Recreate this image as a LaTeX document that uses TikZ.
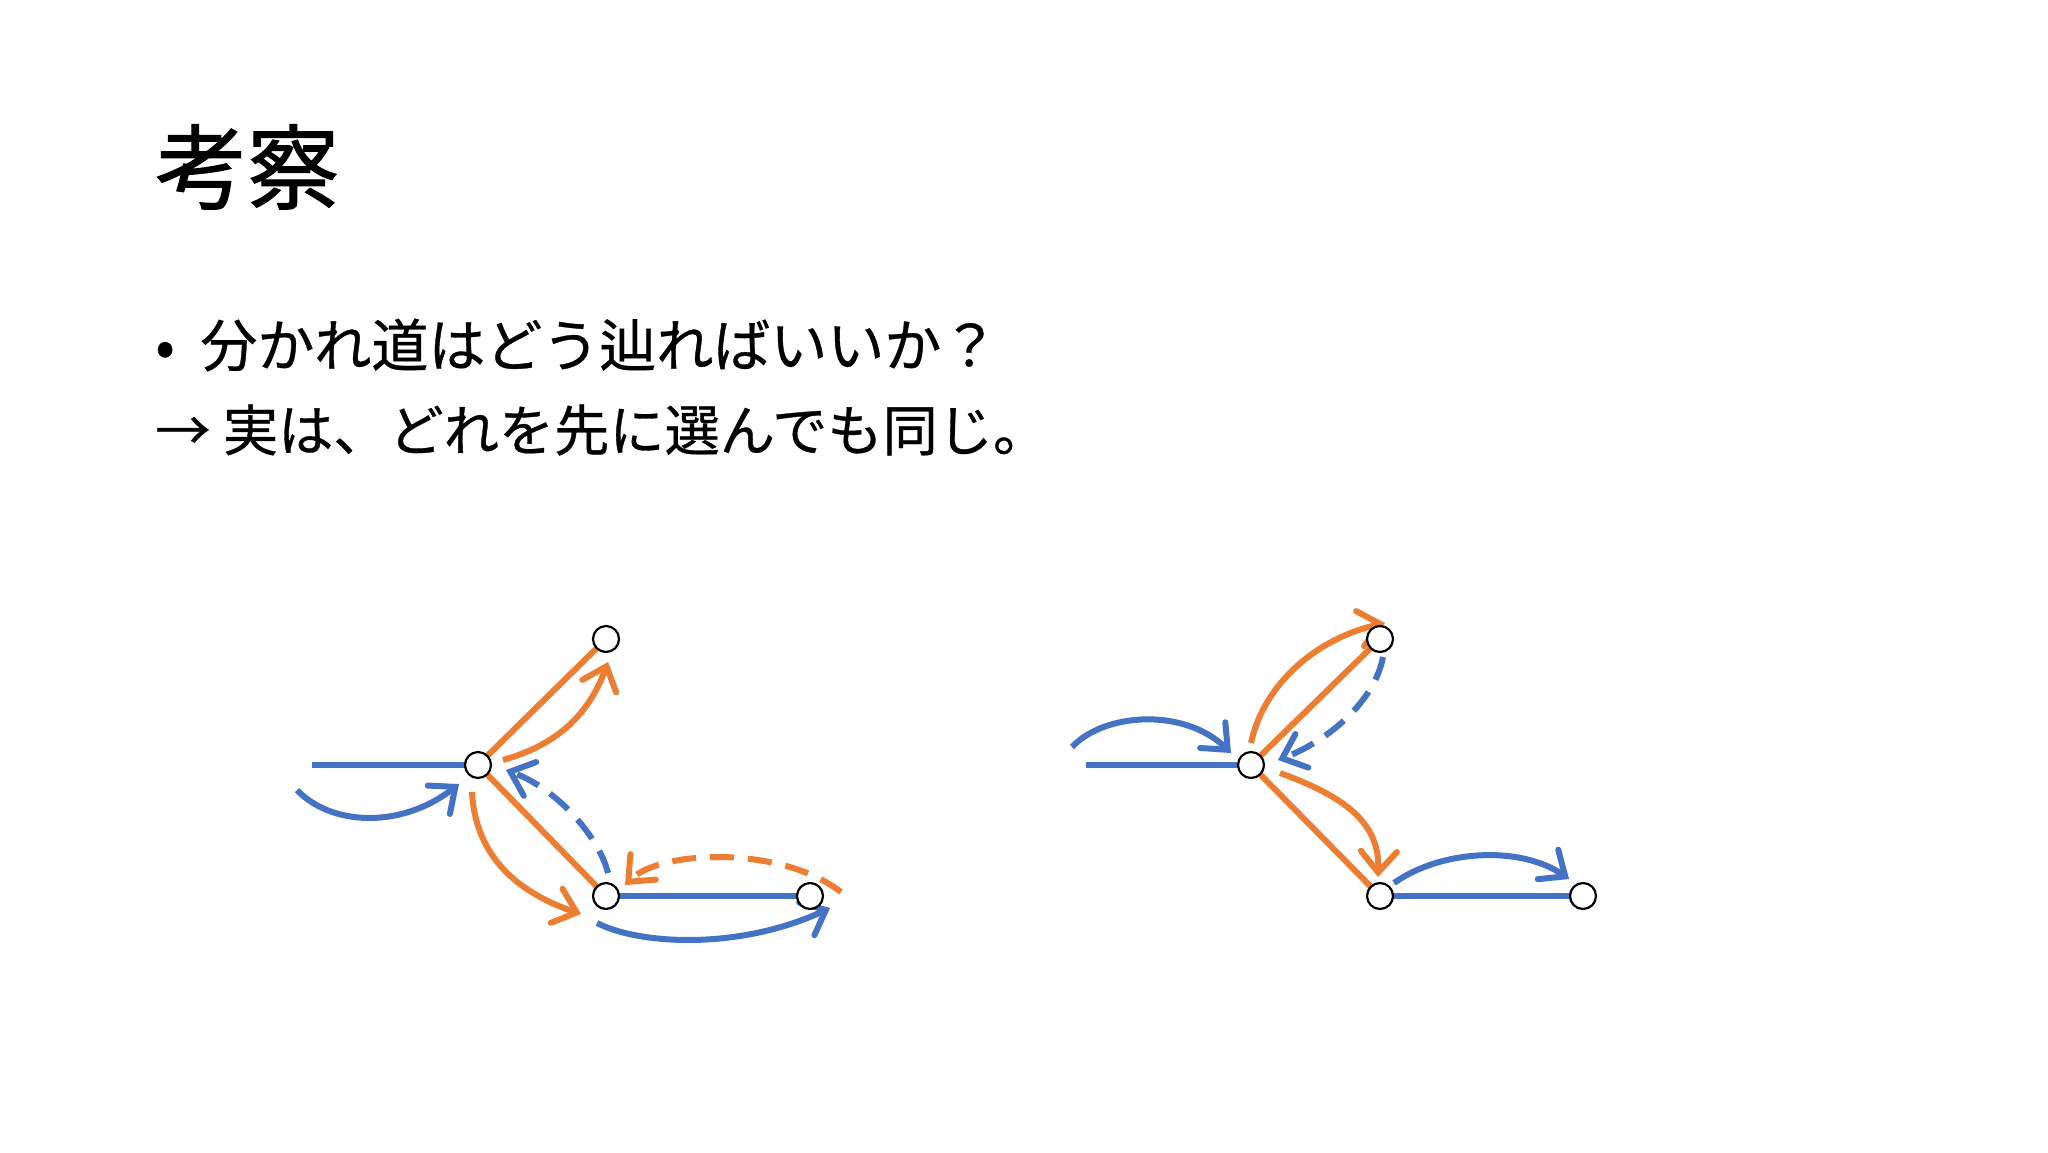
\documentclass[tikz,border=0pt]{standalone}
\usepackage{fontspec}
\setmainfont{Noto Sans CJK JP}
\newfontfamily\titlefont[FakeBold=1.2]{Noto Sans CJK JP}
\newfontfamily\bodyfont[FakeBold=0.6]{Noto Sans CJK JP}
\usetikzlibrary{arrows.meta,backgrounds}
\definecolor{cblue}{HTML}{4472C4}
\definecolor{corange}{HTML}{ED7D31}
\tikzset{
  vtx/.style={circle,draw=black,fill=white,line width=1.1pt,minimum size=13pt,inner sep=0pt},
  bl/.style={draw=cblue,line width=3pt},
  ol/.style={draw=corange,line width=3pt},
  tip/.style={-{Straight Barb[length=10.5pt,width=18pt,line cap=round]}},
  dsh/.style={dash pattern=on 12pt off 7pt}
}
\begin{document}
\begin{tikzpicture}[x=0.5pt,y=-0.5pt]
\useasboundingbox (0,0) rectangle (2048,1152);
% text
\node[anchor=west,inner sep=0pt,font=\titlefont\fontsize{46}{50}\selectfont] (title) at (155,167) {考察};
\node[anchor=west,inner sep=0pt,font=\bodyfont\fontsize{28.5}{32}\selectfont] (l1) at (155,345) {•\hspace{0.45em}分かれ道はどう辿ればいいか？};
\node[anchor=west,inner sep=0pt,font=\bodyfont\fontsize{27.6}{32}\selectfont] (l2) at (155,430) {→ 実は、どれを先に選んでも同じ。};
% left diagram nodes
\node[vtx] (A) at (478,765) {};
\node[vtx] (B) at (606,639) {};
\node[vtx] (C) at (606,896) {};
\node[vtx] (D) at (810,896) {};
% right diagram nodes
\node[vtx] (A2) at (1251,765) {};
\node[vtx] (B2) at (1380,639) {};
\node[vtx] (C2) at (1380,896) {};
\node[vtx] (D2) at (1583,896) {};
% free ends
\coordinate (a0) at (312,765);
\coordinate (p1s) at (297,790); \coordinate (p1e) at (459,784);
\coordinate (p2s) at (503,760); \coordinate (p2e) at (608,662);
\coordinate (p3s) at (472,792); \coordinate (p3e) at (581,914);
\coordinate (p4s) at (608,873); \coordinate (p4e) at (506,770);
\coordinate (p5s) at (841,892); \coordinate (p5e) at (625,885);
\coordinate (p6s) at (597,923); \coordinate (p6e) at (830,908);
\coordinate (b0) at (1086,765);
\coordinate (q1s) at (1072,747); \coordinate (q1e) at (1231,753);
\coordinate (q2s) at (1251,743); \coordinate (q2e) at (1385,623);
\coordinate (q3s) at (1383,657); \coordinate (q3e) at (1278,760);
\coordinate (q4s) at (1280,773); \coordinate (q4e) at (1378,877);
\coordinate (q5s) at (1394,883); \coordinate (q5e) at (1569,879);
\begin{scope}[on background layer]
\fill[white] (0,0) rectangle (2048,1152);
% left
\draw[bl] (a0) -- (A.center);
\draw[ol] (A.center) -- (B.center);
\draw[ol] (A.center) -- (C.center);
\draw[bl] (C.center) -- (D.center);
\draw[bl,tip] (p1s) .. controls (330,825) and (400,830) .. (p1e);
\draw[ol,tip] (p2s) .. controls (545,748) and (585,725) .. (p2e);
\draw[ol,tip] (p3s) .. controls (475,850) and (510,890) .. (p3e);
\draw[bl,dsh,tip] (p4s) .. controls (600,840) and (560,790) .. (p4e);
\draw[ol,dsh,tip] (p5s) .. controls (780,845) and (660,850) .. (p5e);
\draw[bl,tip] (p6s) .. controls (640,945) and (740,950) .. (p6e);
% right
\draw[bl] (b0) -- (A2.center);
\draw[ol] (A2.center) -- (B2.center);
\draw[ol] (A2.center) -- (C2.center);
\draw[bl] (C2.center) -- (D2.center);
\draw[bl,tip] (q1s) .. controls (1105,712) and (1185,708) .. (q1e);
\draw[ol,tip] (q2s) .. controls (1262,690) and (1310,640) .. (q2e);
\draw[bl,dsh,tip] (q3s) .. controls (1375,700) and (1330,740) .. (q3e);
\draw[ol,tip] (q4s) .. controls (1340,795) and (1380,820) .. (q4e);
\draw[bl,tip] (q5s) .. controls (1440,850) and (1520,845) .. (q5e);
\end{scope}
\end{tikzpicture}
\end{document}
